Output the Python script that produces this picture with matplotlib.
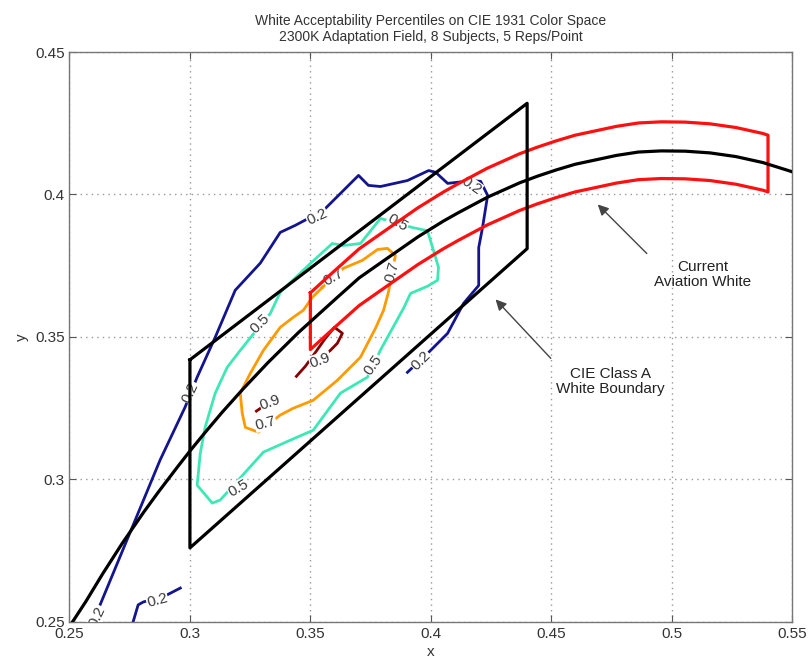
import matplotlib
matplotlib.use('Agg')
import matplotlib.pyplot as plt
from matplotlib.ticker import FormatStrFormatter
import numpy as np

plt.rcParams['font.family'] = ['Liberation Sans', 'DejaVu Sans']

# blackbody (planckian) locus in CIE 1931 xy
locus_x = [0.2500, 0.2568, 0.2637, 0.2719, 0.2807, 0.2869, 0.2952, 0.3003, 0.3064, 0.3135,
           0.3221, 0.3325, 0.3451, 0.3608, 0.3702, 0.3805, 0.3946, 0.4053, 0.4112, 0.4234,
           0.4369, 0.4442, 0.4520, 0.4599, 0.4682, 0.4770, 0.4862, 0.4957, 0.5056, 0.5159,
           0.5267, 0.5379, 0.5496, 0.5600]
locus_y = [0.2484, 0.2572, 0.2668, 0.2776, 0.2884, 0.2956, 0.3048, 0.3103, 0.3166, 0.3237,
           0.3318, 0.3411, 0.3516, 0.3636, 0.3707, 0.3768, 0.3851, 0.3907, 0.3935, 0.3990,
           0.4041, 0.4064, 0.4086, 0.4106, 0.4121, 0.4137, 0.4149, 0.4153, 0.4152, 0.4146,
           0.4133, 0.4112, 0.4081, 0.4046]

# aviation white band (upper / lower edge)
avw_x = [0.3500, 0.3608, 0.3702, 0.3805, 0.3946, 0.4053, 0.4112, 0.4234, 0.4369, 0.4442,
         0.4520, 0.4599, 0.4682, 0.4770, 0.4862, 0.4957, 0.5056, 0.5159, 0.5267, 0.5379,
         0.5400]
avw_upper = [0.3655, 0.3738, 0.3809, 0.3870, 0.3953, 0.4009, 0.4037, 0.4092, 0.4143, 0.4166,
             0.4188, 0.4208, 0.4223, 0.4239, 0.4251, 0.4255, 0.4254, 0.4248, 0.4235, 0.4214,
             0.4208]
avw_lower = [0.3456, 0.3539, 0.3610, 0.3671, 0.3754, 0.3810, 0.3838, 0.3893, 0.3944, 0.3967,
             0.3989, 0.4009, 0.4024, 0.4040, 0.4052, 0.4056, 0.4055, 0.4049, 0.4036, 0.4015,
             0.4009]

# CIE class A white boundary corners
cie_x = [0.30, 0.44, 0.44, 0.30, 0.30]
cie_y = [0.342, 0.432, 0.381, 0.276, 0.342]

# acceptability contours
c02a_x = [0.2627, 0.2876, 0.2980, 0.3030, 0.3105, 0.3188, 0.3292, 0.3375, 0.3438, 0.3554,
          0.3700, 0.3741, 0.3791, 0.3903, 0.3991, 0.4020, 0.4070, 0.4174, 0.4207, 0.4236,
          0.4215, 0.4199, 0.4199, 0.4136, 0.4070, 0.3991, 0.3903]
c02a_y = [0.2560, 0.3068, 0.3254, 0.3359, 0.3499, 0.3664, 0.3759, 0.3867, 0.3892, 0.3944,
          0.4067, 0.4032, 0.4028, 0.4049, 0.4084, 0.4078, 0.4039, 0.4049, 0.4046, 0.3997,
          0.3885, 0.3814, 0.3681, 0.3618, 0.3513, 0.3446, 0.3376]
c02b_x = [0.2764, 0.2785, 0.2806, 0.2905, 0.2960]
c02b_y = [0.2500, 0.2560, 0.2570, 0.2595, 0.2619]

c05_x = [0.3375, 0.3500, 0.3591, 0.3637, 0.3708, 0.3791, 0.3924, 0.3986, 0.4011, 0.4032,
         0.4028, 0.3986, 0.3916, 0.3887, 0.3791, 0.3737, 0.3625, 0.3512, 0.3417, 0.3305,
         0.3238, 0.3126, 0.3093, 0.3030, 0.3043, 0.3063, 0.3105, 0.3155, 0.3209, 0.3259,
         0.3334, 0.3375]
c05_y = [0.3657, 0.3758, 0.3828, 0.3821, 0.3828, 0.3916, 0.3884, 0.3873, 0.3804, 0.3744,
         0.3699, 0.3678, 0.3653, 0.3601, 0.3454, 0.3359, 0.3303, 0.3173, 0.3138, 0.3096,
         0.3033, 0.2928, 0.2917, 0.2980, 0.3092, 0.3183, 0.3303, 0.3394, 0.3453, 0.3506,
         0.3583, 0.3657]

c07_x = [0.3550, 0.3637, 0.3716, 0.3779, 0.3820, 0.3853, 0.3824, 0.3804, 0.3770, 0.3708,
         0.3612, 0.3512, 0.3429, 0.3375, 0.3284, 0.3230, 0.3217, 0.3209, 0.3251, 0.3305,
         0.3375, 0.3429, 0.3471, 0.3508, 0.3550]
c07_y = [0.3674, 0.3741, 0.3769, 0.3807, 0.3811, 0.3786, 0.3657, 0.3594, 0.3530, 0.3429,
         0.3348, 0.3278, 0.3250, 0.3226, 0.3166, 0.3183, 0.3233, 0.3303, 0.3373, 0.3453,
         0.3534, 0.3569, 0.3594, 0.3639, 0.3674]

c09a_x = [0.3442, 0.3479, 0.3521, 0.3562, 0.3600, 0.3633, 0.3612, 0.3583, 0.3558]
c09a_y = [0.3362, 0.3397, 0.3446, 0.3495, 0.3534, 0.3513, 0.3478, 0.3453, 0.3436]
c09b_x = [0.3276, 0.3317]
c09b_y = [0.3240, 0.3264]

# contour labels: x, y, text, rotation
clabels = [
    (0.2614, 0.2520, '0.2', 65), (0.3001, 0.3306, '0.2', 65), (0.3529, 0.3920, '0.2', 25),
    (0.4168, 0.4032, '0.2', -35), (0.3958, 0.3418, '0.2', 45), (0.2864, 0.2577, '0.2', 15),
    (0.3862, 0.3902, '0.5', -30), (0.3762, 0.3401, '0.5', 55), (0.3201, 0.2970, '0.5', 30),
    (0.3292, 0.3548, '0.5', 45),
    (0.3596, 0.3709, '0.7', 30), (0.3841, 0.3727, '0.7', 75), (0.3313, 0.3198, '0.7', 15),
    (0.3541, 0.3418, '0.9', 20), (0.3334, 0.3271, '0.9', 20),
]

fig = plt.figure(figsize=(8.09, 6.65), dpi=100)
ax = fig.add_axes([0.0859, 0.0647, 0.8932, 0.8571])

blue = '#14148f'
cyan = '#3ee8b4'
orange = '#ff9a00'
dred = '#850000'
lw = 2.0

ax.plot(c02a_x, c02a_y, color=blue, lw=lw, zorder=2)
ax.plot(c02b_x, c02b_y, color=blue, lw=lw, zorder=2)
ax.plot(c05_x, c05_y, color=cyan, lw=lw, zorder=2)
ax.plot(c07_x, c07_y, color=orange, lw=lw, zorder=2)
ax.plot(c09a_x, c09a_y, color=dred, lw=lw, zorder=2)
ax.plot(c09b_x, c09b_y, color=dred, lw=lw, zorder=2)

for lx, ly, txt, rot in clabels:
    ax.text(lx, ly, txt, rotation=rot, ha='center', va='center', fontsize=11,
            color='#3a3a3a', rotation_mode='anchor', clip_on=True, zorder=3,
            bbox=dict(facecolor='white', edgecolor='none', pad=0.3))

# aviation white band as a closed outline
band_x = avw_x + avw_x[::-1] + [avw_x[0]]
band_y = avw_upper + avw_lower[::-1] + [avw_upper[0]]
ax.plot(band_x, band_y, color='#ff1010', lw=lw + 0.3, zorder=4)

ax.plot(cie_x, cie_y, color='black', lw=lw + 0.3, zorder=4)
ax.plot(locus_x, locus_y, color='black', lw=lw + 0.3, zorder=4)

arrow = dict(arrowstyle='-|>', color='#444444', lw=1.0, mutation_scale=16)
ax.annotate('', xy=(0.4685, 0.3972), xytext=(0.4905, 0.3786), arrowprops=arrow, zorder=5)
ax.text(0.5130, 0.3720, 'Current\nAviation White', ha='center', va='center',
        fontsize=11, color='#222222', linespacing=1.1)
ax.annotate('', xy=(0.4261, 0.3639), xytext=(0.4506, 0.3418), arrowprops=arrow, zorder=5)
ax.text(0.4747, 0.3345, 'CIE Class A\nWhite Boundary', ha='center', va='center',
        fontsize=11, color='#222222', linespacing=1.1)

ax.set_xlim(0.25, 0.55)
ax.set_ylim(0.25, 0.45)
ax.set_xticks(np.arange(0.25, 0.5501, 0.05))
ax.set_yticks(np.arange(0.25, 0.4501, 0.05))
ax.xaxis.set_major_formatter(FormatStrFormatter('%g'))
ax.yaxis.set_major_formatter(FormatStrFormatter('%g'))
ax.tick_params(direction='in', top=True, right=True, length=5, labelsize=11,
               color='#555555', labelcolor='#333333')
ax.grid(True, linestyle=(0, (1, 3)), color='#999999', lw=1.0)
for s in ax.spines.values():
    s.set_color('#777777')
    s.set_linewidth(1.0)

ax.set_xlabel('x', fontsize=11, color='#333333', labelpad=3)
ax.set_ylabel('y', fontsize=11, color='#333333', labelpad=4)
ax.set_title('White Acceptability Percentiles on CIE 1931 Color Space\n'
             '2300K Adaptation Field, 8 Subjects, 5 Reps/Point',
             fontsize=10, color='#333333', pad=8, linespacing=1.2)

fig.savefig('out.png', dpi=100)
